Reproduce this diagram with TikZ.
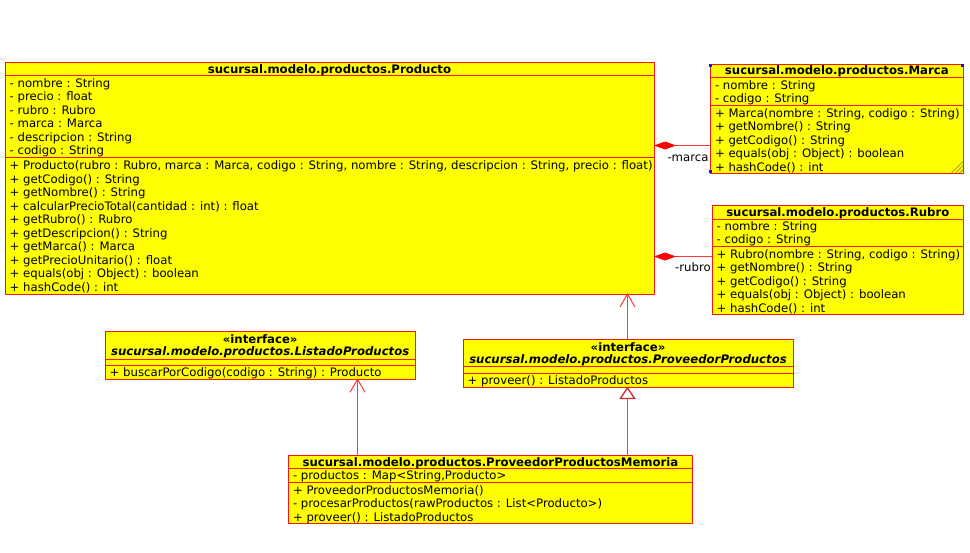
\documentclass[tikz,border=0pt]{standalone}
\usepackage{fontspec}
\setmainfont{DejaVu Sans}
\definecolor{umlfill}{RGB}{255,255,0}
\definecolor{umlline}{RGB}{255,20,20}
\definecolor{umlconn}{RGB}{255,55,55}
\definecolor{umltri}{RGB}{200,40,50}
\definecolor{handle}{RGB}{20,20,230}
\definecolor{hatch}{RGB}{120,120,60}
\begin{document}
\begin{tikzpicture}[x=1pt,y=-1pt,
  font=\fontsize{11.7}{13.5}\selectfont,
  classbox/.style={draw=umlline, fill=umlfill, line width=1pt, anchor=north west, inner sep=0pt, outer sep=0pt},
  sepline/.style={draw=umlline, line width=1pt},
  txt/.style={anchor=base west, inner sep=0pt, text=black},
  ttl/.style={anchor=base, inner sep=0pt, text=black, font=\fontsize{11.7}{13.5}\selectfont\bfseries},
  ittl/.style={anchor=base, inner sep=0pt, text=black, font=\fontsize{11.7}{13.5}\selectfont\bfseries\itshape},
  conn/.style={draw=umlconn, line width=1pt},
  thickconn/.style={draw=umlconn, line width=1.5pt},
  vtip/.style={draw=umlconn, line width=1pt, line join=miter},
  tritip/.style={draw=umltri, fill=white, line width=1.3pt, line join=miter},
  diatip/.style={fill=red},
  lbl/.style={anchor=base west, inner sep=0pt, text=black}
]
\useasboundingbox (0,0) rectangle (970,552);

% ---------------- Producto ----------------
\node[classbox, minimum width=649pt, minimum height=232pt] (producto) at (5,62) {};
\draw[sepline] (5,75.7) -- (654,75.7);
\draw[sepline] (5,157.7) -- (654,157.7);
\node[ttl] (pt) at (329.5,73.5) {sucursal.modelo.productos.Producto};
\node[txt] (pa1) at (9.5,87.3) {- nombre : String};
\node[txt] (pa2) at (9.5,100.8) {- precio : float};
\node[txt] (pa3) at (9.5,114.3) {- rubro : Rubro};
\node[txt] (pa4) at (9.5,127.8) {- marca : Marca};
\node[txt] (pa5) at (9.5,141.3) {- descripcion : String};
\node[txt] (pa6) at (9.5,154.8) {- codigo : String};
\node[txt] (pm1) at (9.5,169.5) {+ Producto(rubro : Rubro, marca : Marca, codigo : String, nombre : String, descripcion : String, precio : float)};
\node[txt] (pm2) at (9.5,183.0) {+ getCodigo() : String};
\node[txt] (pm3) at (9.5,196.5) {+ getNombre() : String};
\node[txt] (pm4) at (9.5,210.0) {+ calcularPrecioTotal(cantidad : int) : float};
\node[txt] (pm5) at (9.5,223.5) {+ getRubro() : Rubro};
\node[txt] (pm6) at (9.5,237.0) {+ getDescripcion() : String};
\node[txt] (pm7) at (9.5,250.5) {+ getMarca() : Marca};
\node[txt] (pm8) at (9.5,264.0) {+ getPrecioUnitario() : float};
\node[txt] (pm9) at (9.5,277.5) {+ equals(obj : Object) : boolean};
\node[txt] (pm10) at (9.5,291.0) {+ hashCode() : int};

% ---------------- Marca ----------------
\node[classbox, minimum width=253pt, minimum height=109.3pt] (marca) at (710.3,64) {};
\draw[sepline] (710.3,77.3) -- (963.3,77.3);
\draw[sepline] (710.3,105) -- (963.3,105);
\node[ttl] (mt) at (836.8,74.5) {sucursal.modelo.productos.Marca};
\node[txt] (ma1) at (714.8,89) {- nombre : String};
\node[txt] (ma2) at (714.8,102.5) {- codigo : String};
\node[txt] (mm1) at (714.8,117.3) {+ Marca(nombre : String, codigo : String)};
\node[txt] (mm2) at (714.8,130.8) {+ getNombre() : String};
\node[txt] (mm3) at (714.8,144.3) {+ getCodigo() : String};
\node[txt] (mm4) at (714.8,157.8) {+ equals(obj : Object) : boolean};
\node[txt] (mm5) at (714.8,171.3) {+ hashCode() : int};
% selection handles
\fill[handle] (709.3,63.5) rectangle (712.3,66.5);
\fill[handle] (960.8,63.5) rectangle (963.8,66.5);
\fill[handle] (709.3,170.3) rectangle (712.3,173.3);
\draw[hatch, line width=0.6pt] (951.5,173) -- (963,161.5);
\draw[hatch, line width=0.6pt] (955.5,173) -- (963,165.5);
\draw[hatch, line width=0.6pt] (959.5,173) -- (963,169.5);

% ---------------- Rubro ----------------
\node[classbox, minimum width=251.7pt, minimum height=108.3pt] (rubro) at (712,205.7) {};
\draw[sepline] (712,219) -- (963.7,219);
\draw[sepline] (712,246) -- (963.7,246);
\node[ttl] (rt) at (837.8,216) {sucursal.modelo.productos.Rubro};
\node[txt] (ra1) at (716.5,230) {- nombre : String};
\node[txt] (ra2) at (716.5,243.5) {- codigo : String};
\node[txt] (rm1) at (716.5,258.3) {+ Rubro(nombre : String, codigo : String)};
\node[txt] (rm2) at (716.5,271.8) {+ getNombre() : String};
\node[txt] (rm3) at (716.5,285.3) {+ getCodigo() : String};
\node[txt] (rm4) at (716.5,298.8) {+ equals(obj : Object) : boolean};
\node[txt] (rm5) at (716.5,312.3) {+ hashCode() : int};

% ---------------- ListadoProductos ----------------
\node[classbox, minimum width=310.3pt, minimum height=47.6pt] (listado) at (105,331.7) {};
\draw[sepline] (105,359) -- (415.3,359);
\draw[sepline] (105,365) -- (415.3,365);
\node[ttl] (ls) at (260.2,343.3) {«interface»};
\node[ittl] (ln) at (260.2,355.7) {sucursal.modelo.productos.ListadoProductos};
\node[txt] (lm1) at (109.5,376.7) {+ buscarPorCodigo(codigo : String) : Producto};

% ---------------- ProveedorProductos ----------------
\node[classbox, minimum width=330pt, minimum height=48pt] (proveedor) at (463,339.3) {};
\draw[sepline] (463,366) -- (793,366);
\draw[sepline] (463,373.3) -- (793,373.3);
\node[ttl] (vs) at (628,351) {«interface»};
\node[ittl] (vn) at (628,363.3) {sucursal.modelo.productos.ProveedorProductos};
\node[txt] (vm1) at (467.5,384.3) {+ proveer() : ListadoProductos};

% ---------------- ProveedorProductosMemoria ----------------
\node[classbox, minimum width=404.4pt, minimum height=68.3pt] (memoria) at (288.3,455) {};
\draw[sepline] (288.3,468.3) -- (692.7,468.3);
\draw[sepline] (288.3,482) -- (692.7,482);
\node[ttl] (et) at (490.5,466) {sucursal.modelo.productos.ProveedorProductosMemoria};
\node[txt] (ea1) at (292.8,479.5) {- productos : Map<String,Producto>};
\node[txt] (em1) at (292.8,494) {+ ProveedorProductosMemoria()};
\node[txt] (em2) at (292.8,507.5) {- procesarProductos(rawProductos : List<Producto>)};
\node[txt] (em3) at (292.8,521) {+ proveer() : ListadoProductos};

% ---------------- connectors ----------------
\coordinate (ax) at (357.5,0);
\coordinate (bx) at (627.5,0);
\coordinate (my) at (0,145.5);
\coordinate (ry) at (0,256.5);
% Memoria -> ListadoProductos (navigable association)
\draw[conn] (memoria.north -| ax) -- (listado.south -| ax);
\draw[vtip] (listado.south -| ax) ++(-7.5,13) -- ++(7.5,-13) -- ++(7.5,13);
% ProveedorProductos -> Producto
\draw[conn] (proveedor.north -| bx) -- (producto.south -| bx);
\draw[vtip] (producto.south -| bx) ++(-7.5,13) -- ++(7.5,-13) -- ++(7.5,13);
% Memoria realizes ProveedorProductos
\draw[thickconn] (memoria.north -| bx) -- (proveedor.south -| bx);
\filldraw[tritip] (proveedor.south -| bx) ++(0,0.6) -- ++(-7,10.5) -- ++(14,0) -- cycle;
% compositions
\draw[conn] (marca.west |- my) -- (producto.east |- my);
\fill[diatip] (producto.east |- my) -- ++(11,-4) -- ++(11,4) -- ++(-11,4) -- cycle;
\draw[conn] (rubro.west |- ry) -- (producto.east |- ry);
\fill[diatip] (producto.east |- ry) -- ++(11,-4) -- ++(11,4) -- ++(-11,4) -- cycle;
\node[lbl] (lmarca) at (667.3,161) {-marca};
\node[lbl] (lrubro) at (675,271) {-rubro};
\end{tikzpicture}
\end{document}
